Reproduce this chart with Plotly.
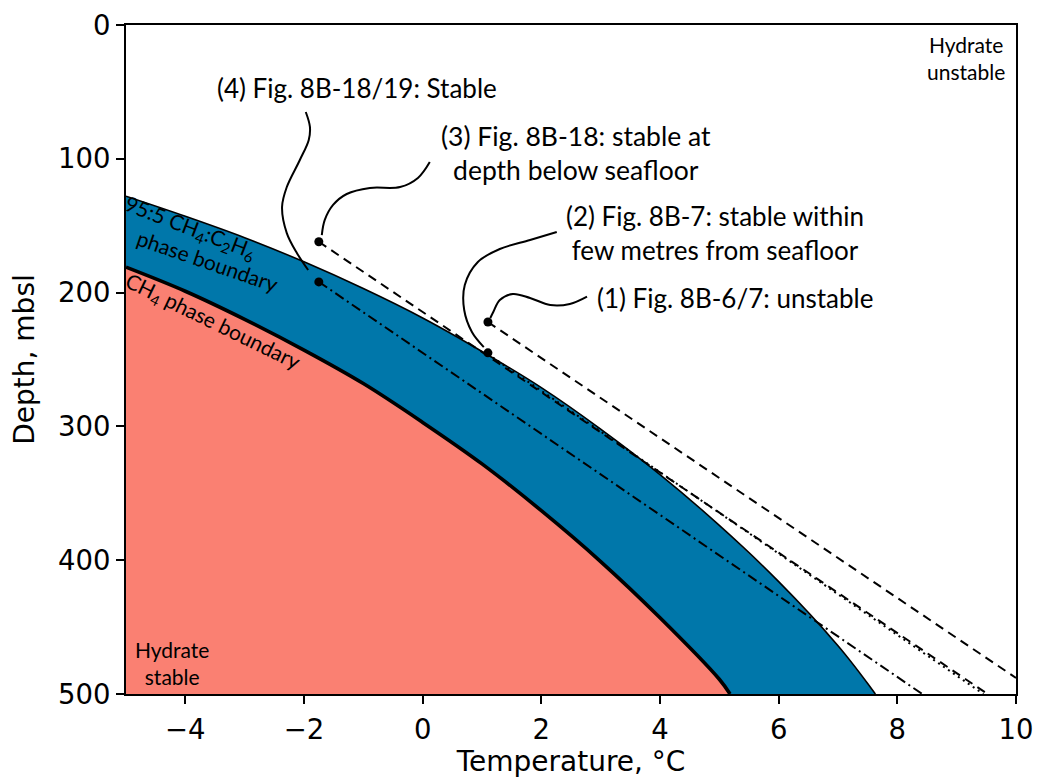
import plotly.graph_objects as go

# ---------------- data ----------------
# 95:5 CH4:C2H6 phase boundary (temperature degC, depth mbsl)
t_mix = [-5, -4, -3, -2, -1, 0, 1, 2, 3, 4, 5, 6, 7, 7.63]
d_mix = [128, 143, 159, 177, 197, 219, 244, 271, 302, 336, 374, 416, 464, 500]

# CH4 phase boundary
t_ch4 = [-5, -4, -3, -2, -1, 0, 1, 2, 3, 4, 5, 5.18]
d_ch4 = [181, 199, 220, 243, 268, 297, 328, 363, 401, 443, 489, 500]

# geotherm profiles: start point and end point
t_p1 = [1.1, 10.0]     # (1) dashed
d_p1 = [222, 488]
t_p2 = [1.1, 9.45]     # (2) dotted
d_p2 = [246, 500]
t_p3 = [-1.75, 9.52]   # (3) dashed
d_p3 = [162, 500]
t_p4 = [-1.75, 8.42]   # (4) dash-dot
d_p4 = [192, 500]

# seafloor points
t_dots = [1.1, 1.1, -1.75, -1.75]
d_dots = [222, 245, 162, 192]

# leader curves for the labels
lead1_t = [2.77, 2.48, 2.15, 1.81, 1.52, 1.30, 1.19, 1.14]
lead1_d = [203, 208.5, 209.3, 204, 201, 205.5, 214.5, 219]
lead2_t = [2.26, 1.81, 1.30, 0.93, 0.71, 0.70, 0.83, 1.03]
lead2_d = [154.7, 160.7, 167.4, 177.1, 194.3, 213, 229.4, 240.7]
lead3_t = [0.12, -0.08, -0.38, -0.89, -1.28, -1.51, -1.65, -1.70]
lead3_d = [102.4, 114.3, 121.1, 121.8, 126.3, 134.5, 145.7, 157]
lead4_t = [-1.97, -1.90, -1.92, -2.07, -2.29, -2.37, -2.29, -2.12, -1.93]
lead4_d = [65, 76.2, 85.9, 100.9, 121.1, 136, 155.5, 170.4, 183.1]

x_ticks = [-4, -2, 0, 2, 4, 6, 8, 10]
y_ticks = [0, 100, 200, 300, 400, 500]
X_MIN, X_MAX = -5, 10
Y_MAX = 500

BLUE = "#0077AA"
SALMON = "#FA8072"
ANN_FONT = "Lato"
AX_FONT = "DejaVu Sans"

fig = go.Figure()

# blue region (below mixed-gas boundary)
fig.add_trace(go.Scatter(
    x=t_mix + [X_MIN], y=d_mix + [Y_MAX], mode="lines", fill="toself",
    fillcolor=BLUE, line=dict(width=0), hoverinfo="skip", showlegend=False))
# salmon region (below CH4 boundary)
fig.add_trace(go.Scatter(
    x=t_ch4 + [X_MIN], y=d_ch4 + [Y_MAX], mode="lines", fill="toself",
    fillcolor=SALMON, line=dict(width=0), hoverinfo="skip", showlegend=False))

# boundaries
fig.add_trace(go.Scatter(x=t_mix, y=d_mix, mode="lines",
                         line=dict(color="black", width=1.6, shape="spline"),
                         showlegend=False))
fig.add_trace(go.Scatter(x=t_ch4, y=d_ch4, mode="lines",
                         line=dict(color="black", width=3.6, shape="spline"),
                         showlegend=False))

# profiles
for tx, dy, dash in [(t_p1, d_p1, "9px,6px"),
                     (t_p3, d_p3, "9px,6px"),
                     (t_p2, d_p2, "2px,4px"),
                     (t_p4, d_p4, "10px,4px,2px,4px")]:
    fig.add_trace(go.Scatter(x=tx, y=dy, mode="lines",
                             line=dict(color="black", width=2, dash=dash),
                             showlegend=False))

# leader curves
for lt, ld in [(lead1_t, lead1_d), (lead2_t, lead2_d),
               (lead3_t, lead3_d), (lead4_t, lead4_d)]:
    fig.add_trace(go.Scatter(x=lt, y=ld, mode="lines",
                             line=dict(color="black", width=2, shape="spline"),
                             showlegend=False))

# seafloor dots
fig.add_trace(go.Scatter(x=t_dots, y=d_dots, mode="markers",
                         marker=dict(color="black", size=9),
                         showlegend=False))

ann = [
    dict(x=-1.107, y=47.1, text="(4) Fig. 8B-18/19: Stable", size=26),
    dict(x=2.585, y=95.3, text="(3) Fig. 8B-18: stable at<br>depth below seafloor", size=26.5),
    dict(x=4.93, y=155.8, text="(2) Fig. 8B-7: stable within<br>few metres from seafloor", size=26),
    dict(x=5.256, y=204, text="(1) Fig. 8B-6/7: unstable", size=26),
    dict(x=9.158, y=24.7, text="Hydrate<br>unstable", size=21),
    dict(x=-4.233, y=476.8, text="Hydrate<br>stable", size=21),
]
for a in ann:
    fig.add_annotation(x=a["x"], y=a["y"], xref="x", yref="y", text=a["text"],
                       showarrow=False, align="center",
                       font=dict(family=ANN_FONT, size=a["size"], color="black"))

# rotated boundary labels
fig.add_annotation(x=-3.92, y=152.0, xref="x", yref="y",
                   text="95:5 CH<sub>4</sub>:C<sub>2</sub>H<sub>6</sub>",
                   showarrow=False, textangle=21,
                   font=dict(family=ANN_FONT, size=21, color="black"))
fig.add_annotation(x=-3.63, y=176.0, xref="x", yref="y",
                   text="phase boundary",
                   showarrow=False, textangle=19,
                   font=dict(family=ANN_FONT, size=21, color="black"))
fig.add_annotation(x=-3.534, y=222, xref="x", yref="y",
                   text="CH<sub>4</sub> phase boundary",
                   showarrow=False, textangle=26, align="center",
                   font=dict(family=ANN_FONT, size=21, color="black"))

axis_common = dict(showline=True, linecolor="black", linewidth=2, mirror=True,
                   ticks="outside", ticklen=8, tickwidth=1.6, tickcolor="black",
                   showgrid=False, zeroline=False,
                   tickfont=dict(family=AX_FONT, size=27.5, color="black"))

fig.update_xaxes(range=[X_MIN, X_MAX], tickvals=x_ticks, ticklabelstandoff=2,
                 title=dict(text="Temperature, °C", standoff=6,
                            font=dict(family=AX_FONT, size=28, color="black")),
                 **axis_common)
fig.update_yaxes(range=[Y_MAX, 0], tickvals=y_ticks,
                 title=dict(text="Depth, mbsl", standoff=15,
                            font=dict(family=AX_FONT, size=28, color="black")),
                 **axis_common)

fig.update_layout(width=1037, height=778,
                  margin=dict(l=126, r=21, t=25, b=84, autoexpand=False),
                  paper_bgcolor="white", plot_bgcolor="white",
                  showlegend=False)

fig.write_html("out.html")
